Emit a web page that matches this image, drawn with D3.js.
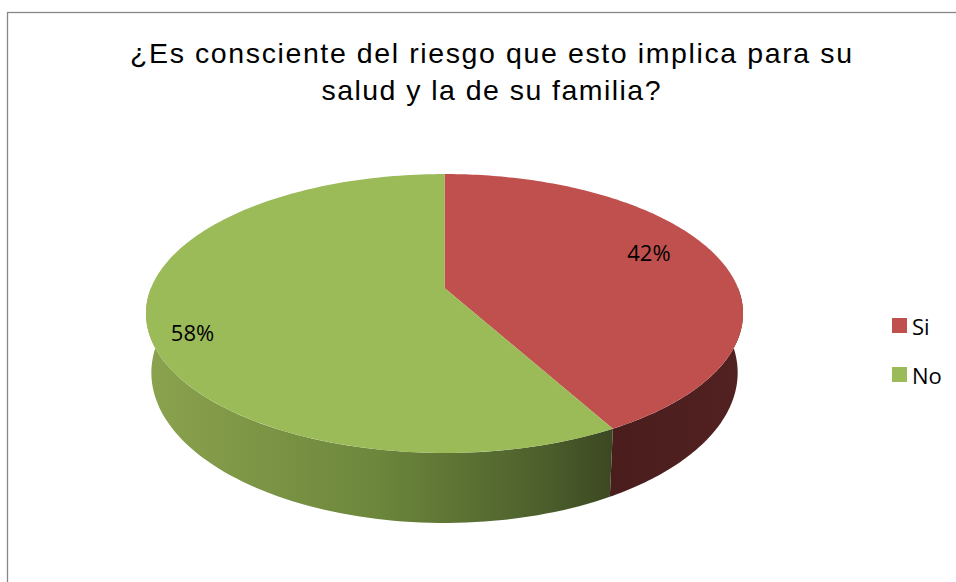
<!DOCTYPE html>
<html>
<head>
<meta charset="utf-8">
<script src="https://cdn.jsdelivr.net/npm/d3@7"></script>
<style>
  body { margin: 0; background: #fff; }
  svg { display: block; }
</style>
</head>
<body>
<svg id="chart"></svg>
<script>
var width = 956;
var height = 582;

var titleLines = ["¿Es consciente del riesgo que esto implica para su", "salud y la de su familia?"];
var categories = ["Si", "No"];
var values = [42, 58];

var topColors = ["#c0504d", "#9bbb59"];

// pie centre and perspective projection of the tilted disc
var cx = 444.5, cy = 288;
var ax = 293.5, by = 134.8, persp = -0.1828;
var depth = 57.2, bottomShrink = 0.982;

var svg = d3.select("#chart")
    .attr("width", width)
    .attr("height", height);

var defs = svg.append("defs");

var gGreen = defs.append("linearGradient")
    .attr("id", "sideGreen")
    .attr("gradientUnits", "userSpaceOnUse")
    .attr("x1", cx - 298).attr("x2", cx + 168)
    .attr("y1", 0).attr("y2", 0);
gGreen.append("stop").attr("offset", "0%").attr("stop-color", "#8ba34e");
gGreen.append("stop").attr("offset", "50%").attr("stop-color", "#6c863c");
gGreen.append("stop").attr("offset", "85%").attr("stop-color", "#4d5f2c");
gGreen.append("stop").attr("offset", "100%").attr("stop-color", "#3c4822");

var gRed = defs.append("linearGradient")
    .attr("id", "sideRed")
    .attr("gradientUnits", "userSpaceOnUse")
    .attr("x1", cx + 160).attr("x2", cx + 298)
    .attr("y1", 0).attr("y2", 0);
gRed.append("stop").attr("offset", "0%").attr("stop-color", "#4a1d1d");
gRed.append("stop").attr("offset", "100%").attr("stop-color", "#522121");

var sideFills = ["url(#sideRed)", "url(#sideGreen)"];

// chart frame
svg.append("rect")
    .attr("x", 7.5).attr("y", 12.5)
    .attr("width", 1000).attr("height", 700)
    .attr("fill", "none")
    .attr("stroke", "#878787")
    .attr("stroke-width", 1.3);

// title
var titleWidths = [722, 339];
svg.append("g").selectAll("text")
  .data(titleLines)
  .enter()
  .append("text")
    .attr("x", 491)
    .attr("y", function(d, i) { return 63 + i * 37; })
    .attr("text-anchor", "middle")
    .attr("font-family", "Liberation Sans, Arial, sans-serif")
    .attr("font-size", 28.5)
    .attr("textLength", function(d, i) { return titleWidths[i]; })
    .attr("lengthAdjust", "spacing")
    .attr("fill", "#000")
    .text(function(d) { return d; });

var pie = d3.pie().sort(null).value(function(d) { return d; });
var arcs = pie(values);

// project a disc point (angle a: 0 = back/top, clockwise; radius r in 0..1)
function proj(a, r, bottom) {
  var u = r * Math.sin(a), v = -r * Math.cos(a);
  var w = 1 + persp * v;
  var x = ax * u / w, y = by * v / w;
  if (bottom) { x *= bottomShrink; y += depth / w; }
  return [cx + x, cy + y];
}

function sample(a0, a1, n) {
  return d3.range(0, n + 1).map(function(k) { return a0 + (a1 - a0) * k / n; });
}

var line = d3.line();

// visible side: front half, angles between PI/2 and 3PI/2
var sideG = svg.append("g");
arcs.forEach(function(d, i) {
  var a0 = Math.max(d.startAngle, Math.PI / 2);
  var a1 = Math.min(d.endAngle, 3 * Math.PI / 2);
  if (a1 <= a0) return;
  var steps = sample(a0, a1, 80);
  var pts = steps.map(function(a) { return proj(a, 1); })
    .concat(steps.slice().reverse().map(function(a) { return proj(a, 1, true); }));
  sideG.append("path")
    .attr("d", line(pts) + "Z")
    .attr("fill", sideFills[i]);
});

// top faces
svg.append("g").selectAll("path")
  .data(arcs)
  .enter()
  .append("path")
    .attr("d", function(d) {
      var pts = [[cx, cy]].concat(sample(d.startAngle, d.endAngle, 160).map(function(a) { return proj(a, 1); }));
      return line(pts) + "Z";
    })
    .attr("fill", function(d, i) { return topColors[i]; });

// labels
var labelNudge = [[-15, -10], [-16, 16]];
svg.append("g").selectAll("text")
  .data(arcs)
  .enter()
  .append("text")
    .attr("x", function(d, i) { return proj((d.startAngle + d.endAngle) / 2, 0.8)[0] + labelNudge[i][0]; })
    .attr("y", function(d, i) { return proj((d.startAngle + d.endAngle) / 2, 0.8)[1] + labelNudge[i][1]; })
    .attr("text-anchor", "middle")
    .attr("dominant-baseline", "central")
    .attr("font-family", "Open Sans, sans-serif")
    .attr("font-size", 22)
    .attr("fill", "#000")
    .text(function(d) { return d.data + "%"; });

// legend
var legend = svg.append("g").selectAll("g")
  .data(categories)
  .enter()
  .append("g")
    .attr("transform", function(d, i) { return "translate(892," + (318 + i * 49) + ")"; });

legend.append("rect")
    .attr("width", 15).attr("height", 15)
    .attr("fill", function(d, i) { return topColors[i]; });

legend.append("text")
    .attr("x", 20)
    .attr("y", 8)
    .attr("dominant-baseline", "central")
    .attr("font-family", "Open Sans, sans-serif")
    .attr("font-size", 22)
    .attr("fill", "#000")
    .text(function(d) { return d; });
</script>
</body>
</html>
